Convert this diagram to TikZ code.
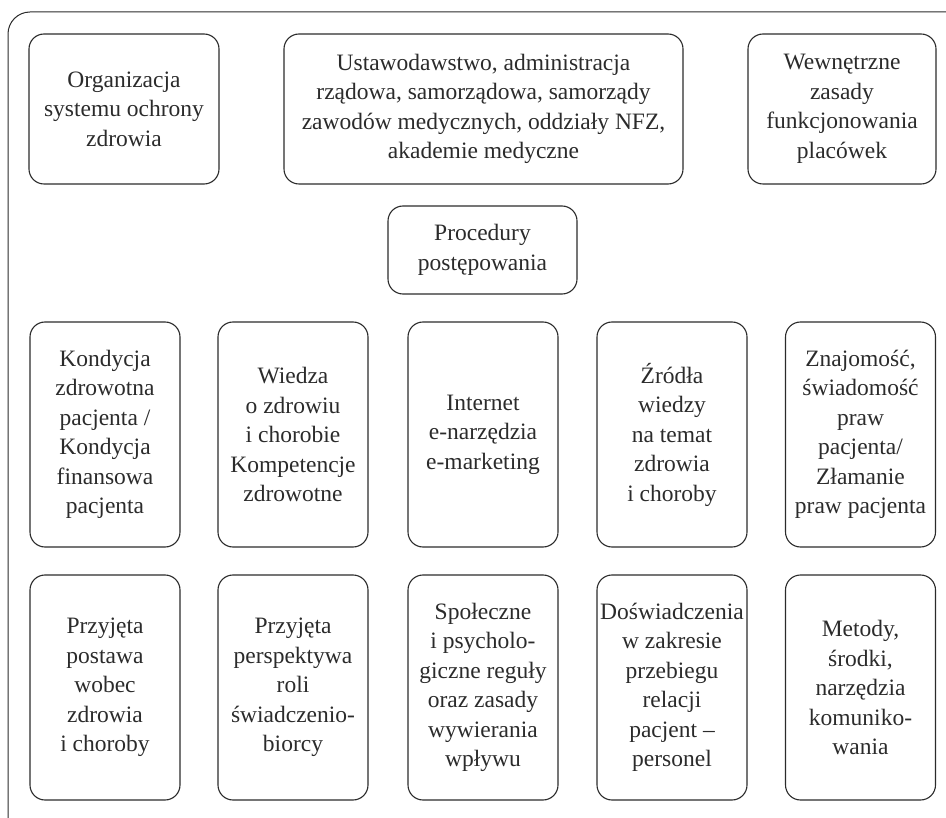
\documentclass[tikz,border=0pt]{standalone}
\usepackage{fontspec}
\setmainfont{Liberation Serif}
\definecolor{ink}{HTML}{2B2B2B}
\tikzset{
  box/.style={draw=ink, line width=1.1pt, rounded corners=15pt, align=center,
    inner sep=0pt, text=ink, font=\fontsize{23.5}{29.5}\selectfont},
  widebox/.style={box, minimum height=150pt},
  colbox/.style={box, minimum width=150pt, minimum height=225pt},
}
\begin{document}
\begin{tikzpicture}[x=1pt,y=1pt]
\useasboundingbox (0,0) rectangle (946,-818);
\begin{scope}
\clip (0,0) rectangle (946,-818);
\draw[ink, line width=1pt, rounded corners=22pt] (8,-12) rectangle (985,-855);
\end{scope}
% row 1
\node[widebox, minimum width=190pt] (org) at (124,-109) {Organizacja\\systemu ochrony\\zdrowia};
\node[widebox, minimum width=399pt] (ust) at (483.5,-109) {Ustawodawstwo, administracja\\rządowa, samorządowa, samorządy\\zawodów medycznych, oddziały NFZ,\\akademie medyczne};
\node[widebox, minimum width=188pt] (wew) at (842,-109) {Wewnętrzne\\zasady\\funkcjonowania\\placówek};
% procedury
\node[box, minimum width=189pt, minimum height=88pt] (proc) at (482.5,-250) {Procedury\\postępowania};
% row 2
\node[colbox] (r2a) at (105,-434.5) {Kondycja\\zdrowotna\\pacjenta /\\Kondycja\\finansowa\\pacjenta};
\node[colbox] (r2b) at (293,-434.5) {Wiedza\\o zdrowiu\\i chorobie\\Kompetencje\\zdrowotne};
\node[colbox] (r2c) at (483,-434.5) {Internet\\e-narzędzia\\e-marketing};
\node[colbox] (r2d) at (672,-434.5) {Źródła\\wiedzy\\na temat\\zdrowia\\i choroby};
\node[colbox] (r2e) at (860.5,-434.5) {Znajomość,\\świadomość\\praw\\pacjenta/\\Złamanie\\praw pacjenta};
% row 3
\node[colbox] (r3a) at (105,-687.5) {Przyjęta\\postawa\\wobec\\zdrowia\\i choroby};
\node[colbox] (r3b) at (293,-687.5) {Przyjęta\\perspektywa\\roli\\świadczenio-\\biorcy};
\node[colbox] (r3c) at (483,-687.5) {Społeczne\\i psycholo-\\giczne reguły\\oraz zasady\\wywierania\\wpływu};
\node[colbox] (r3d) at (672,-687.5) {Doświadczenia\\w zakresie\\przebiegu\\relacji\\pacjent –\\personel};
\node[colbox] (r3e) at (860.5,-687.5) {Metody,\\środki,\\narzędzia\\komuniko-\\wania};
\end{tikzpicture}
\end{document}
